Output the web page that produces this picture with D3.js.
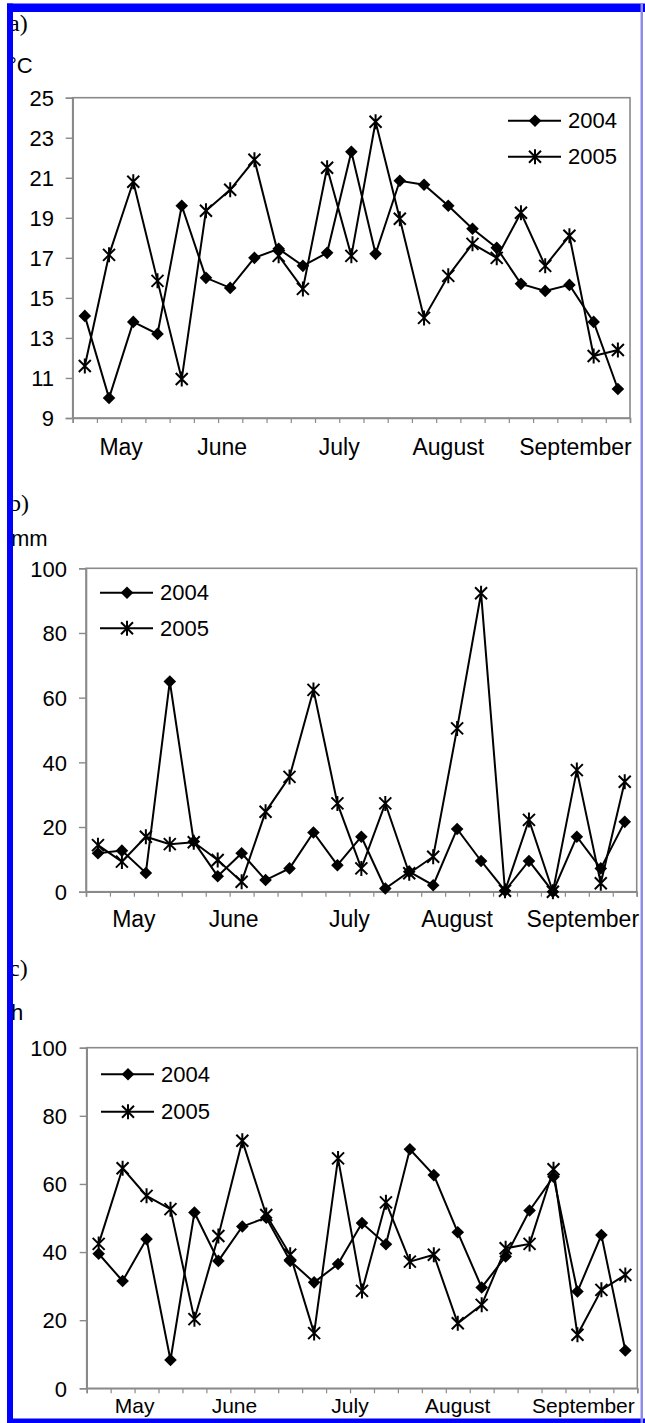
<!DOCTYPE html>
<html>
<head>
<meta charset="utf-8">
<script src="https://cdn.jsdelivr.net/npm/d3@7"></script>
<style>
  html, body { margin: 0; padding: 0; background: #fff; }
  svg { display: block; }
</style>
</head>
<body>
<svg id="chart" width="645" height="1423"></svg>
<script>
// ---------- DATA ----------
const weeks = [1,2,3,4,5,6,7,8,9,10,11,12,13,14,15,16,17,18,19,20,21,22,23];
const seriesNames = ["2004", "2005"];
const monthLabels = ["May", "June", "July", "August", "September"];
const monthAt = [2, 6.17, 11, 15.5, 20.75]; // position in week units

const temp2004 = [14.1, 10.0, 13.8, 13.2, 19.6, 16.0, 15.5, 17.0, 17.45, 16.6, 17.25, 22.3, 17.2, 20.85, 20.65, 19.6, 18.45, 17.5, 15.7, 15.35, 15.65, 13.8, 10.45];
const temp2005 = [11.6, 17.15, 20.8, 15.85, 10.95, 19.35, 20.4, 21.9, 17.1, 15.45, 21.5, 17.1, 23.8, 18.95, 14.0, 16.1, 17.7, 17.0, 19.25, 16.6, 18.1, 12.1, 12.4];
const rain2004 = [11.9, 12.7, 5.8, 65.0, 15.5, 4.8, 11.9, 3.6, 7.2, 18.3, 8.2, 17.0, 1.0, 6.2, 2.0, 19.4, 9.5, 0.3, 9.5, 0.0, 17.0, 7.2, 21.6];
const rain2005 = [14.4, 9.3, 17.0, 14.7, 15.3, 9.8, 3.1, 24.7, 35.5, 62.4, 27.3, 7.2, 27.3, 5.7, 10.8, 50.5, 92.3, 0.3, 22.2, 0.0, 37.6, 2.6, 34.0];
const sun2004 = [39.5, 31.5, 43.8, 8.3, 51.6, 37.4, 47.5, 50.1, 37.4, 31.1, 36.5, 48.5, 42.3, 70.2, 62.6, 45.8, 29.6, 38.7, 52.2, 62.1, 28.4, 45.0, 11.1];
const sun2005 = [42.4, 64.6, 56.5, 52.6, 20.3, 44.7, 72.7, 50.9, 39.2, 16.2, 67.5, 28.6, 54.6, 37.2, 39.2, 19.1, 24.5, 41.1, 42.4, 64.3, 15.7, 28.9, 33.3];

const tempTicks = [9, 11, 13, 15, 17, 19, 21, 23, 25];
const pctTicks = [0, 20, 40, 60, 80, 100];

// ---------- LAYOUT ----------
const panels = [
  { tag: "a)", unit: "°C", s1: temp2004, s2: temp2005, ticks: tempTicks, dom: [9, 25],
    left: 72.7, right: 630, top: 97.7, bottom: 418, tagY: 31, unitY: 73, unitX: 8,
    tickLabelX: 54, monthY: 454.5, monthSize: 23, legX: 508, legY: [120.7, 156.7] },
  { tag: "b)", unit: "mm", s1: rain2004, s2: rain2005, ticks: pctTicks, dom: [0, 100],
    left: 86, right: 636.7, top: 568.3, bottom: 891.7, tagY: 511, unitY: 546, unitX: 11,
    tickLabelX: 67, monthY: 927, monthSize: 23, legX: 100, legY: [592.7, 628.3] },
  { tag: "c)", unit: "h", s1: sun2004, s2: sun2005, ticks: pctTicks, dom: [0, 100],
    left: 86.7, right: 637.3, top: 1047.7, bottom: 1388.3, tagY: 976, unitY: 1020, unitX: 11,
    tickLabelX: 67, monthY: 1412.5, monthSize: 21, legX: 101, legY: [1074.3, 1111.7] }
];

const svg = d3.select("#chart");
const sansFont = "'Liberation Sans', Arial, sans-serif";
const serifFont = "'Liberation Serif', 'Times New Roman', serif";
const gray = "#8a8a8a";

const diamondPath = "M0,-6.3L6.3,0L0,6.3L-6.3,0Z";
const starPath = "M-6,-6L6,6M-6,6L6,-6M0,-7.5L0,7.5";

function drawMarker(g, type, x, y) {
  if (type === 0) {
    g.append("path").attr("d", diamondPath).attr("transform", `translate(${x},${y})`)
      .attr("fill", "#000");
  } else {
    g.append("path").attr("d", starPath).attr("transform", `translate(${x},${y})`)
      .attr("fill", "none").attr("stroke", "#000").attr("stroke-width", 2);
  }
}

panels.forEach(p => {
  const g = svg.append("g");
  const x = d3.scaleLinear().domain([0, weeks.length]).range([p.left, p.right]);
  const y = d3.scaleLinear().domain(p.dom).range([p.bottom, p.top]);

  // panel tag & unit
  g.append("text").attr("x", 9).attr("y", p.tagY).text(p.tag)
    .attr("font-family", serifFont).attr("font-size", 24).attr("fill", "#000");
  g.append("text").attr("x", p.unitX).attr("y", p.unitY).text(p.unit)
    .attr("font-family", sansFont).attr("font-size", 22).attr("fill", "#000");

  // plot frame
  g.append("rect").attr("x", p.left).attr("y", p.top)
    .attr("width", p.right - p.left).attr("height", p.bottom - p.top)
    .attr("fill", "none").attr("stroke", gray).attr("stroke-width", 1.6);

  // y axis
  const yAxis = d3.axisLeft(y).tickValues(p.ticks).tickSize(7).tickPadding(0).tickFormat(d3.format("d"));
  const ya = g.append("g").attr("transform", `translate(${p.left},0)`).call(yAxis);
  ya.select(".domain").attr("stroke", gray).attr("stroke-width", 1.6);
  ya.selectAll(".tick line").attr("stroke", gray).attr("stroke-width", 1.4);
  ya.selectAll(".tick text").attr("x", p.tickLabelX - p.left).attr("dy", "0.35em")
    .attr("font-family", sansFont).attr("font-size", 22).attr("fill", "#000");

  // x axis (week ticks, no labels)
  const xAxis = d3.axisBottom(x).tickValues(d3.range(0, weeks.length + 1)).tickSize(5).tickFormat("");
  const xa = g.append("g").attr("transform", `translate(0,${p.bottom})`).call(xAxis);
  xa.select(".domain").attr("stroke", gray).attr("stroke-width", 1.6);
  xa.selectAll(".tick line").attr("stroke", gray).attr("stroke-width", 1.2);

  // month labels
  g.selectAll(".month").data(monthLabels).enter().append("text")
    .attr("x", (d, i) => x(monthAt[i])).attr("y", p.monthY)
    .attr("text-anchor", "middle").text(d => d)
    .attr("font-family", sansFont).attr("font-size", p.monthSize).attr("fill", "#000");

  // series
  const line = d3.line().x((d, i) => x(i + 0.5)).y(d => y(d));
  [p.s1, p.s2].forEach((s, k) => {
    g.append("path").datum(s).attr("d", line).attr("fill", "none")
      .attr("stroke", "#000").attr("stroke-width", 2).attr("stroke-linejoin", "miter");
  });
  [p.s1, p.s2].forEach((s, k) => {
    s.forEach((v, i) => drawMarker(g, k, x(i + 0.5), y(v)));
  });

  // legend
  seriesNames.forEach((name, k) => {
    const ly = p.legY[k];
    g.append("line").attr("x1", p.legX).attr("x2", p.legX + 53).attr("y1", ly).attr("y2", ly)
      .attr("stroke", "#000").attr("stroke-width", 2);
    drawMarker(g, k, p.legX + 27, ly);
    g.append("text").attr("x", p.legX + 60).attr("y", ly).attr("dy", "0.35em").text(name)
      .attr("font-family", sansFont).attr("font-size", 22).attr("fill", "#000");
  });
});

// blue frame
svg.append("rect").attr("x", 7).attr("y", 3.5).attr("width", 638).attr("height", 8.5).attr("fill", "#0000ff");
svg.append("rect").attr("x", 7).attr("y", 3.5).attr("width", 6).attr("height", 1420).attr("fill", "#0000ff");
svg.append("rect").attr("x", 7).attr("y", 1418.5).attr("width", 638).attr("height", 5).attr("fill", "#0000ff");
svg.append("rect").attr("x", 640.5).attr("y", 3.5).attr("width", 2.5).attr("height", 1420).attr("fill", "#8c8cf0");
</script>
</body>
</html>
